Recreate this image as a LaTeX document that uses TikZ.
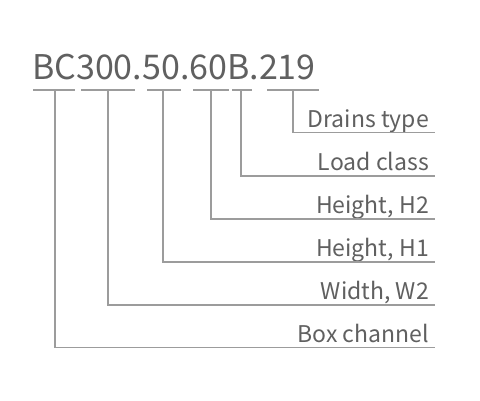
\documentclass[tikz,border=0pt]{standalone}
\usepackage{fontspec}
\setmainfont{Noto Sans CJK SC}
\begin{document}
\begin{tikzpicture}[x=1pt,y=1pt,
  ln/.style={draw=linegray,line width=1.2pt},
  lbl/.style={anchor=base east,inner sep=0pt,text=txtgray,font=\fontsize{23}{23}\selectfont},
  ttl/.style={anchor=base west,inner sep=0pt,text=txtgray,font=\fontsize{34}{34}\selectfont}]
\definecolor{linegray}{HTML}{9C9C9C}
\definecolor{txtgray}{HTML}{606060}
\useasboundingbox[fill=white] (0,0) rectangle (480,-400);
\node[ttl] (title) at (32,-79.5) {BC300.50.60B.219};
% underline segments
\foreach \a/\b/\n in {33/75/1,81/135/2,147/181/3,193/229/4,232/252/5,267/319/6}{
  \coordinate (sa\n) at (\a,-90);
  \coordinate (sb\n) at (\b,-90);
  \draw[ln] (sa\n) -- (sb\n);
}
% labels
\node[lbl] (l6) at (429,-127.5) {Drains type};
\node[lbl] (l5) at (429,-170.5) {Load class};
\node[lbl] (l4) at (429,-213.5) {Height, H2};
\node[lbl] (l3) at (429,-256.5) {Height, H1};
\node[lbl] (l2) at (429,-299.5) {Width, W2};
\node[lbl] (l1) at (429,-342.5) {Box channel};
% connectors
\foreach \x/\y/\n in {55/347.5/1,108/305/2,163/262/3,211/219/4,241/176/5,293/132.5/6}{
  \coordinate (t\n) at (\x,-90);
  \coordinate (e\n) at (435,-\y);
  \draw[ln] (t\n) |- (e\n);
}
\end{tikzpicture}
\end{document}
